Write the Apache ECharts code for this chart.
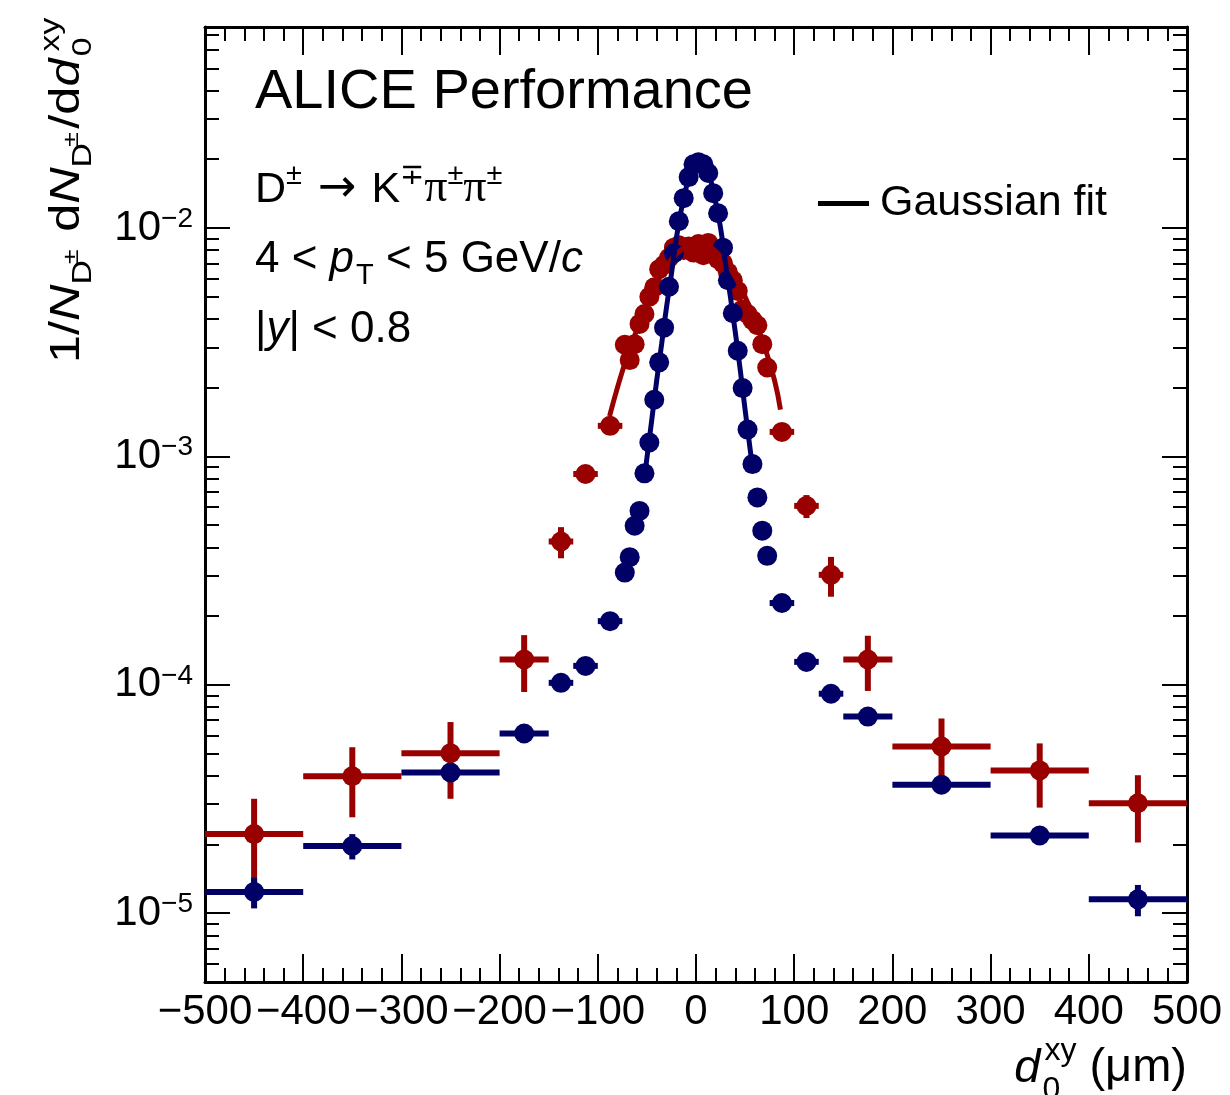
<!DOCTYPE html>
<html>
<head>
<meta charset="utf-8">
<script src="https://cdn.jsdelivr.net/npm/echarts@6/dist/echarts.min.js"></script>
<style>
  html, body { margin: 0; padding: 0; background: #fff; }
  #chart { width: 1230px; height: 1095px; }
</style>
</head>
<body>
<div id="chart"></div>
<script>
// d0xy binning (um), shared by both distributions
const binEdges = [-500, -400, -300, -200, -150, -125, -100,
  -75, -70, -65, -60, -55, -50, -45, -40, -35, -30, -25, -20, -15, -10, -5, 0,
  5, 10, 15, 20, 25, 30, 35, 40, 45, 50, 55, 60, 65, 70, 75,
  100, 125, 150, 200, 300, 400, 500];

// blue distribution
const blueVals = [1.24e-5, 1.97e-5, 4.13e-5, 6.12e-5, 1.02e-4, 1.21e-4, 1.90e-4,
  3.10e-4, 3.62e-4, 4.97e-4, 5.77e-4, 8.43e-4, 1.15e-3, 1.77e-3, 2.58e-3, 3.66e-3,
  5.53e-3, 7.75e-3, 1.07e-2, 1.35e-2, 1.67e-2, 1.90e-2,
  1.94e-2, 1.90e-2, 1.74e-2, 1.42e-2, 1.16e-2, 8.2e-3, 5.9e-3, 4.23e-3, 2.90e-3,
  1.99e-3, 1.31e-3, 9.25e-4, 6.61e-4, 4.73e-4, 3.67e-4,
  2.28e-4, 1.26e-4, 9.14e-5, 7.26e-5, 3.65e-5, 2.19e-5, 1.15e-5];
const blueErrs = [0.19e-5, 0.25e-5, 0.35e-5, 0.2e-5, 0.04e-4, 0.05e-4, 0.06e-4,
  0.1e-4, 0.1e-4, 0.12e-4, 0.14e-4, 0.2e-4, 0.25e-4, 0.3e-4, 0.4e-4, 0.5e-4,
  0.7e-4, 0.9e-4, 1.1e-4, 1.3e-4, 1.5e-4, 1.7e-4,
  1.7e-4, 1.7e-4, 1.6e-4, 1.4e-4, 1.2e-4, 0.9e-4, 0.7e-4, 0.55e-4, 0.45e-4,
  0.35e-4, 0.25e-4, 0.2e-4, 0.15e-4, 0.12e-4, 0.1e-4,
  0.07e-4, 0.05e-4, 0.04e-4, 0.2e-5, 0.2e-5, 0.15e-5, 0.18e-5];

// red distribution
const redVals = [2.22e-5, 3.98e-5, 5.02e-5, 1.29e-4, 4.24e-4, 8.37e-4, 1.36e-3,
  3.08e-3, 2.64e-3, 3.10e-3, 3.80e-3, 4.20e-3, 5.00e-3, 5.50e-3, 6.60e-3, 6.90e-3,
  7.40e-3, 8.20e-3, 8.40e-3, 8.00e-3, 8.30e-3, 7.80e-3,
  8.50e-3, 7.60e-3, 8.60e-3, 7.80e-3, 7.30e-3, 7.00e-3, 6.40e-3, 5.90e-3, 5.30e-3,
  4.40e-3, 4.20e-3, 3.95e-3, 3.75e-3, 3.10e-3, 2.45e-3,
  1.28e-3, 6.07e-4, 3.03e-4, 1.29e-4, 5.37e-5, 4.22e-5, 3.03e-5];
const redErrs = [0.95e-5, 1.35e-5, 1.85e-5, 0.36e-4, 0.66e-4, 0.5e-4, 0.08e-3,
  0.12e-3, 0.11e-3, 0.12e-3, 0.14e-3, 0.15e-3, 0.17e-3, 0.18e-3, 0.2e-3, 0.2e-3,
  0.2e-3, 0.22e-3, 0.22e-3, 0.22e-3, 0.22e-3, 0.22e-3,
  0.22e-3, 0.22e-3, 0.22e-3, 0.22e-3, 0.2e-3, 0.2e-3, 0.2e-3, 0.18e-3, 0.17e-3,
  0.16e-3, 0.15e-3, 0.14e-3, 0.14e-3, 0.12e-3, 0.11e-3,
  0.08e-3, 0.7e-4, 0.6e-4, 0.35e-4, 1.75e-5, 1.32e-5, 0.99e-5];

// Gaussian fit curves
const blueFitX = [-52, -45, -40, -35, -30, -25, -20, -15, -10, -5, 0, 5, 10, 15, 20, 25, 30, 35, 40, 45, 50, 57];
const blueFitY = [8.4e-4, 1.45e-3, 2.15e-3, 3.1e-3, 4.5e-3, 6.3e-3, 9.0e-3, 1.2e-2, 1.5e-2, 1.78e-2, 1.93e-2,
  1.95e-2, 1.85e-2, 1.62e-2, 1.3e-2, 1.0e-2, 7.0e-3, 5.0e-3, 3.5e-3, 2.4e-3, 1.6e-3, 9.3e-4];
const redFitX = [-88, -80, -70, -60, -50, -40, -30, -20, -10, 0, 10, 20, 30, 40, 50, 60, 70, 80, 86];
const redFitY = [1.5e-3, 2.0e-3, 2.75e-3, 3.6e-3, 4.6e-3, 5.7e-3, 6.8e-3, 7.7e-3, 8.3e-3, 8.5e-3,
  8.4e-3, 7.9e-3, 7.1e-3, 6.1e-3, 5.0e-3, 3.95e-3, 3.0e-3, 2.15e-3, 1.6e-3];

const FONT = 'Liberation Sans';
const RED = '#990000';
const BLUE = '#000066';

function histData(vals, errs) {
  let d = [];
  for (let i = 0; i < vals.length; i++) {
    let lo = binEdges[i], hi = binEdges[i + 1];
    d.push([(lo + hi) / 2, vals[i], (hi - lo) / 2, errs[i]]);
  }
  return d;
}
function pairs(xs, ys) {
  return xs.map((x, i) => [x, ys[i]]);
}

function errorBars(color) {
  return function (params, api) {
    let x = api.value(0), y = api.value(1), hw = api.value(2), e = api.value(3);
    let l = api.coord([x - hw, y]), r = api.coord([x + hw, y]);
    let t = api.coord([x, y + e]), b = api.coord([x, Math.max(y - e, 1e-7)]);
    let st = { stroke: color, lineWidth: 6 };
    return {
      type: 'group',
      children: [
        { type: 'line', shape: { x1: l[0], y1: l[1], x2: r[0], y2: r[1] }, style: st },
        { type: 'line', shape: { x1: t[0], y1: t[1], x2: b[0], y2: b[1] }, style: st }
      ]
    };
  };
}

// text runs with sub/superscripts, laid out on one baseline
const ctx = document.createElement('canvas').getContext('2d');
function tw(s, size, fam, it) {
  ctx.font = (it ? 'italic ' : '') + size + 'px "' + fam + '"';
  return ctx.measureText(s).width;
}
function textRun(pieces, defSize) {
  let out = [], x = 0;
  for (let p of pieces) {
    let size = p.s || defSize || 42, fam = p.f || FONT;
    out.push({
      type: 'text', x: x + (p.dx || 0), y: (p.dy || 0) - 0.31 * size,
      style: { text: p.t, fontSize: size, fontFamily: fam, fontStyle: p.i ? 'italic' : 'normal',
        fill: '#000', align: 'left', verticalAlign: 'middle' }
    });
    if (!p.stack) x += tw(p.t, size, fam, p.i) + (p.gap || 0);
  }
  return { children: out, width: x };
}

const SUP = -18, SUB = 12;
let line1 = textRun([{ t: 'ALICE Performance', s: 56 }]);
let line2 = textRun([{ t: 'D' }, { t: '±', s: 29, dy: SUP, gap: 16 }, { t: '→', f: 'DejaVu Sans', s: 46, gap: 15 },
  { t: 'K' }, { t: '∓', s: 29, dy: SUP }, { t: 'π', f: 'Liberation Serif', s: 46 },
  { t: '±', s: 29, dy: SUP }, { t: 'π', f: 'Liberation Serif', s: 46 }, { t: '±', s: 29, dy: SUP }], 43);
let line3 = textRun([{ t: '4 < ' }, { t: 'p', i: true }, { t: 'T', s: 29, dy: SUB, dx: 2, gap: 2 }, { t: ' < 5 GeV/' },
  { t: 'c', i: true }], 44);
let line4 = textRun([{ t: '|' }, { t: 'y', i: true }, { t: '| < 0.8' }], 44);
let xTitle = textRun([{ t: 'd', i: true }, { t: '0', s: 32, dy: SUB + 5, dx: 2, stack: true },
  { t: 'xy', s: 32, dy: SUP - 4, dx: 4, gap: 4 }, { t: ' (μm)' }], 47);
let yTitle = textRun([{ t: '1/' }, { t: 'N', i: true }, { t: 'D', s: 28, dy: SUB }, { t: '±', s: 22, dy: -1, dx: -3 },
  { t: ' d' }, { t: 'N', i: true }, { t: 'D', s: 28, dy: SUB }, { t: '±', s: 22, dy: -1, dx: -3 },
  { t: '/d' }, { t: 'd', i: true }, { t: '0', s: 28, dy: SUB, dx: 2, stack: true }, { t: 'xy', s: 28, dy: SUP - 2, dx: 6 }]);
const yTitleLen = 338;

function yLabel(v) {
  let e = Math.round(Math.log10(v));
  if (Math.abs(Math.log10(v) - e) > 1e-6) return '';
  return '{b|10}{s|' + (e < 0 ? '\u2212' + (-e) : e) + '}';
}

let chart = echarts.init(document.getElementById('chart'), null, { renderer: 'canvas' });

let xBase = {
  type: 'value', min: -500, max: 500, interval: 100,
  axisLine: { show: true, onZero: false, lineStyle: { color: '#000', width: 3 } },
  axisTick: { show: true, inside: true, length: 28, lineStyle: { color: '#000', width: 2 } },
  minorTick: { show: true, splitNumber: 5, length: 14, lineStyle: { color: '#000', width: 2 } },
  splitLine: { show: false }
};
let yBase = {
  type: 'log', logBase: 10, min: 5e-6, max: 0.0758,
  axisLine: { show: true, onZero: false, lineStyle: { color: '#000', width: 3 } },
  axisTick: { show: true, inside: true, length: 25, lineStyle: { color: '#000', width: 2 } },
  minorTick: { show: true, splitNumber: 9, length: 14, lineStyle: { color: '#000', width: 2 } },
  splitLine: { show: false }, minorSplitLine: { show: false }
};

let option = {
  animation: false,
  backgroundColor: '#fff',
  grid: { left: 205, right: 43, top: 27, bottom: 113 },
  xAxis: [
    Object.assign({}, xBase, {
      position: 'bottom',
      axisLabel: { margin: 9, fontSize: 42, fontFamily: FONT, color: '#000',
        formatter: v => String(v).replace('-', '\u2212') }
    }),
    Object.assign({}, xBase, { position: 'top', axisLabel: { show: false } })
  ],
  yAxis: [
    Object.assign({}, yBase, {
      position: 'left',
      axisLabel: {
        margin: 12, formatter: yLabel,
        rich: {
          b: { fontSize: 42, fontFamily: FONT, color: '#000', lineHeight: 46 },
          s: { fontSize: 28, fontFamily: FONT, color: '#000', lineHeight: 26, verticalAlign: 'top' }
        }
      }
    }),
    Object.assign({}, yBase, { position: 'right', axisLabel: { show: false } })
  ],
  legend: {
    left: 813, top: 177, icon: 'rect', itemWidth: 51, itemHeight: 5, selectedMode: false,
    data: [{ name: 'Gaussian fit', itemStyle: { color: '#000' } }],
    textStyle: { fontFamily: FONT, fontSize: 43, color: '#000', padding: [0, 0, 0, 6] }
  },
  graphic: [
    { type: 'group', x: 255, y: 110, children: line1.children },
    { type: 'group', x: 255, y: 203, children: line2.children },
    { type: 'group', x: 255, y: 273, children: line3.children },
    { type: 'group', x: 255, y: 343, children: line4.children },
    { type: 'group', x: 1187 - xTitle.width, y: 1083, children: xTitle.children },
    { type: 'group', x: 80, y: 363, rotation: Math.PI / 2, scaleX: yTitleLen / yTitle.width, children: yTitle.children }
  ],
  series: [
    { type: 'custom', name: 'red err', renderItem: errorBars(RED), data: histData(redVals, redErrs),
      encode: { x: 0, y: 1 }, silent: true },
    { type: 'scatter', name: 'red', symbol: 'circle', symbolSize: 20, itemStyle: { color: RED, opacity: 1 },
      data: histData(redVals, redErrs).map(d => [d[0], d[1]]), silent: true },
    { type: 'line', name: 'Gaussian fit', smooth: true, showSymbol: false, symbol: 'none',
      lineStyle: { color: RED, width: 5 }, itemStyle: { color: RED }, data: pairs(redFitX, redFitY), silent: true },
    { type: 'custom', name: 'blue err', renderItem: errorBars(BLUE), data: histData(blueVals, blueErrs),
      encode: { x: 0, y: 1 }, silent: true },
    { type: 'scatter', name: 'blue', symbol: 'circle', symbolSize: 20, itemStyle: { color: BLUE, opacity: 1 },
      data: histData(blueVals, blueErrs).map(d => [d[0], d[1]]), silent: true },
    { type: 'line', name: 'Gaussian fit', smooth: true, showSymbol: false, symbol: 'none',
      lineStyle: { color: BLUE, width: 5 }, itemStyle: { color: BLUE }, data: pairs(blueFitX, blueFitY), silent: true }
  ]
};
chart.setOption(option);
</script>
</body>
</html>
